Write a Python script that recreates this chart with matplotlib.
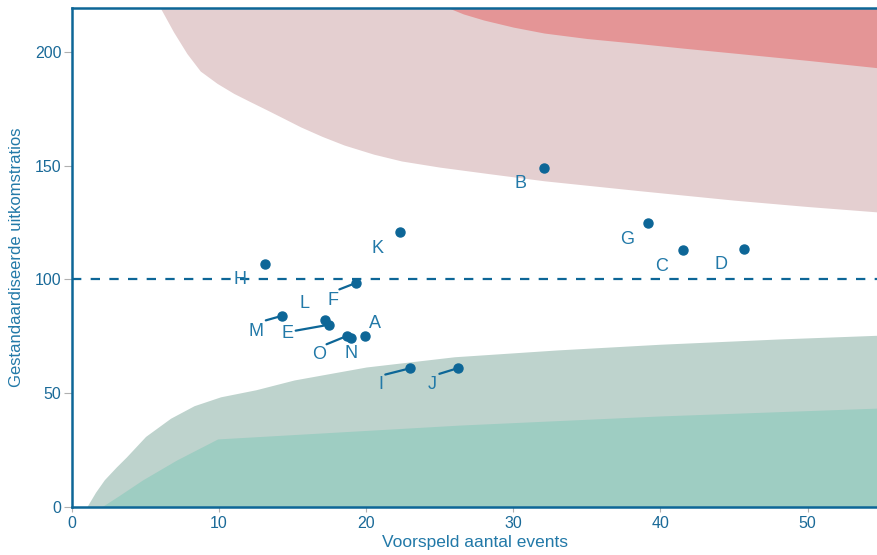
import matplotlib
matplotlib.use("Agg")
import matplotlib.pyplot as plt
import numpy as np

plt.rcParams['font.family'] = ['Liberation Sans', 'DejaVu Sans']

# ---- data ----
names = ["A", "B", "C", "D", "E", "F", "G", "H", "I", "J", "K", "L", "M", "N", "O"]
expected = [19.94, 32.1, 41.55, 45.66, 17.49, 19.33, 39.15, 13.10, 22.96, 26.23, 22.30, 17.17, 14.28, 18.99, 18.71]
ratio = [75.2, 148.9, 112.7, 113.4, 80.1, 98.5, 124.7, 106.9, 60.9, 61.0, 120.6, 82.0, 84.0, 74.1, 75.2]
label_x = [20.57, 30.52, 40.05, 44.14, 14.65, 17.71, 37.74, 11.44, 20.98, 24.52, 20.78, 15.80, 12.53, 18.94, 16.83]
label_y = [80.4, 141.9, 105.8, 106.7, 76.4, 90.9, 117.7, 100.1, 54.0, 54.0, 113.7, 89.2, 77.3, 67.6, 66.8]
has_leader = [False, False, False, False, True, True, False, False, True, True, False, False, True, False, True]
# side of the label box where the leader starts: "top" or "right"
leader_side = ["", "", "", "", "right", "top", "", "", "top", "top", "", "", "top", "", "top"]

# control limit boundaries
up_outer_x = [5.94, 6.90, 7.81, 8.72, 9.86, 10.99, 12.13, 13.26, 14.40, 15.53, 17.0, 18.5, 20.5, 22.4, 25.0, 28.5, 32.1, 38.5, 45.0, 50.0, 55.0]
up_outer_y = [220.0, 208.7, 199.2, 191.5, 186.1, 181.7, 178.0, 174.4, 170.7, 167.0, 162.8, 159.0, 155.0, 152.0, 149.3, 146.3, 143.3, 139.0, 134.8, 132.0, 129.5]
up_inner_x = [25.3, 26.6, 28.0, 30.0, 32.1, 35.0, 38.2, 41.5, 45.0, 50.0, 55.0]
up_inner_y = [220.0, 216.6, 213.9, 210.8, 208.2, 205.8, 203.8, 201.6, 199.4, 196.2, 192.8]
lo_outer_x = [1.0, 1.6, 2.2, 3.0, 3.7, 5.0, 6.7, 8.3, 10.1, 12.5, 15.1, 20.0, 26.0, 33.0, 40.0, 48.0, 55.0]
lo_outer_y = [0.0, 6.5, 12.0, 17.5, 22.0, 31.0, 39.0, 44.5, 48.4, 51.5, 55.8, 61.5, 66.0, 69.0, 71.5, 73.8, 75.5]
lo_inner_x = [2.0, 3.2, 4.8, 7.1, 9.9, 26.4, 40.0, 55.0]
lo_inner_y = [0.0, 5.0, 11.9, 20.6, 29.9, 36.0, 40.0, 43.5]

xticks = [0, 10, 20, 30, 40, 50]
yticks = [0, 50, 100, 150, 200]
xlabel = "Voorspeld aantal events"
ylabel = "Gestandaardiseerde uitkomstratios"
reference = 100

# ---- style ----
blue = "#0d6697"
txt = "#2279a8"
tick_col = "#1a6a98"

fig = plt.figure(figsize=(8.77, 5.55), dpi=100)
ax = fig.add_axes([72 / 877, 1 - 507 / 555, 1 - 72 / 877 + 0.002, (507 - 8) / 555])
ax.set_xlim(0, 54.84)
ax.set_ylim(0, 219.2)

ax.fill_between(up_outer_x, up_outer_y, 230, color="#e4cfd0", lw=0, zorder=1)
ax.fill_between(up_inner_x, up_inner_y, 230, color="#e49596", lw=0, zorder=2)
ax.fill_between(lo_outer_x, 0, lo_outer_y, color="#bed3cd", lw=0, zorder=1)
ax.fill_between(lo_inner_x, 0, lo_inner_y, color="#9ecdc2", lw=0, zorder=2)

ax.axhline(reference, color=blue, lw=1.6, ls=(0, (4.2, 4.2)), zorder=3)

ax.plot(expected, ratio, 'o', color=blue, ms=6.5, mec=blue, zorder=5, clip_on=False)

relpos_for = {"top": (0.62, 1.0), "right": (1.0, 0.62)}
for n, px, py, lx, ly, lead, side in zip(names, expected, ratio, label_x, label_y, has_leader, leader_side):
    if lead:
        ax.annotate(n, xy=(px, py), xytext=(lx, ly), ha="center", va="center",
                    fontsize=13, color=txt, zorder=6,
                    bbox=dict(boxstyle="square,pad=0.12", fc="none", ec="none"),
                    arrowprops=dict(arrowstyle="-", color=blue, lw=1.6,
                                    shrinkA=0, shrinkB=0, relpos=relpos_for[side]))
    else:
        ax.text(lx, ly, n, ha="center", va="center", fontsize=13, color=txt, zorder=6)

for s in ["left", "bottom", "top"]:
    ax.spines[s].set_color(blue)
    ax.spines[s].set_linewidth(1.8)
    ax.spines[s].set_zorder(7)
ax.spines["right"].set_visible(False)

ax.set_xticks(xticks)
ax.set_yticks(yticks)
ax.tick_params(axis="both", colors="#b0b0b0", width=0.8, labelsize=11.5,
               labelcolor=tick_col)
ax.tick_params(axis="x", length=3.5, pad=3)
ax.tick_params(axis="y", length=5.5, pad=2)
ax.set_xlabel(xlabel, fontsize=12.5, color=txt, labelpad=3)
ax.set_ylabel(ylabel, fontsize=12, color=txt, labelpad=8)

fig.savefig("out.png", dpi=100)
